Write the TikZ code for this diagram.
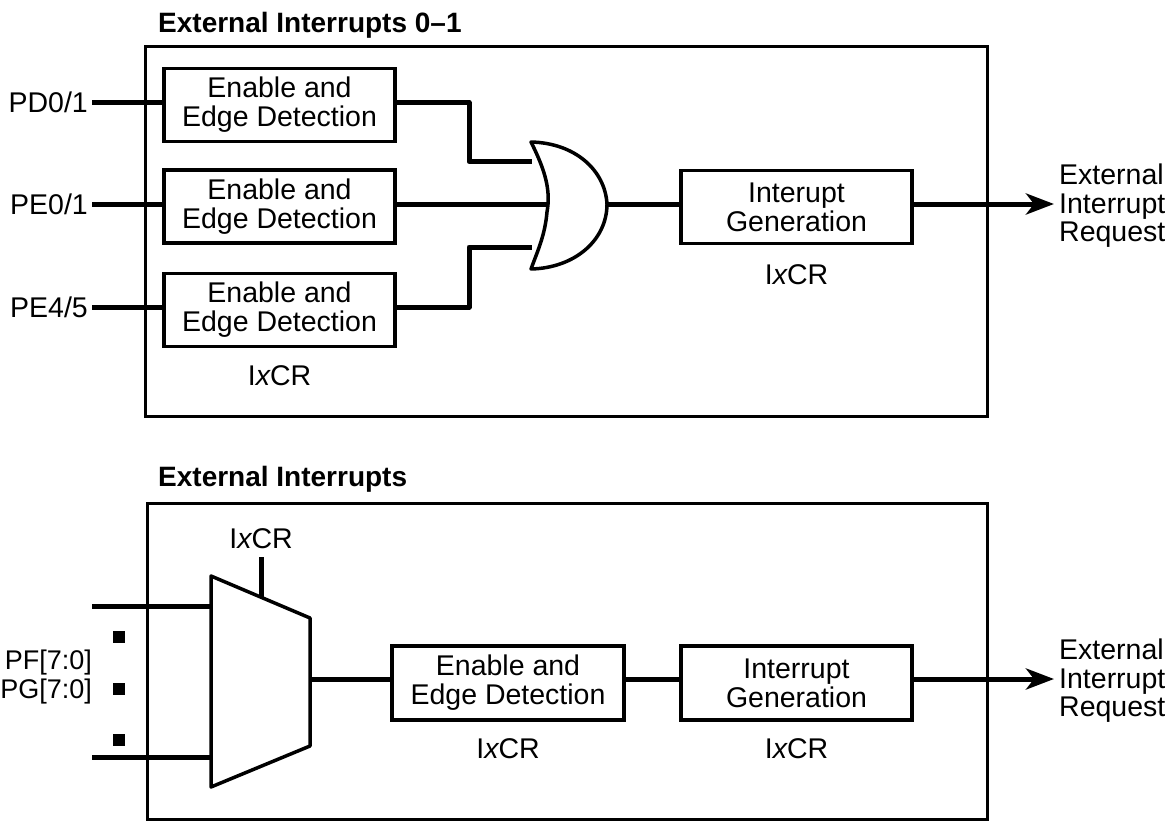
\documentclass[tikz,border=0pt]{standalone}
\usepackage{fontspec}
\setmainfont{Liberation Sans}
\usetikzlibrary{arrows.meta,positioning,shapes}
\tikzstyle{block}=[rectangle,draw=black,line width=3.3pt,align=center,minimum width=231pt,minimum height=73pt,inner sep=0pt,font=\fontsize{28.5}{29}\selectfont]
\tikzstyle{frame}=[draw=black,line width=3pt]
\tikzstyle{wire}=[draw=black,line width=5pt]
\tikzstyle{outwire}=[wire,-{Stealth[length=28pt,width=21pt,inset=8pt]},shorten >=5pt]
\tikzstyle{gate}=[draw=black,line width=3.5pt,fill=white,line join=round]
\tikzstyle{port}=[inner sep=0pt,font=\fontsize{28.5}{28.5}\selectfont]
\tikzstyle{title}=[inner sep=0pt,anchor=west,font=\bfseries\fontsize{28}{28}\selectfont]
\tikzstyle{dot}=[rectangle,fill=black,minimum size=12pt,inner sep=0pt]
\newcommand{\ixcr}{I{\itshape x}CR}
\begin{document}
\begin{tikzpicture}[x=1pt,y=-1pt]
	\useasboundingbox (0,0) rectangle (1174,821);

	% upper unit
	\node[title] (title1) at (158,25) {External Interrupts 0--1};
	\draw[frame] (145,47) rectangle (987,416);
	\node[block] (b1) at (279.5,105) {Enable and\\Edge Detection};
	\node[block,below of=b1,node distance=101.5pt] (b2) {Enable and\\Edge Detection};
	\node[block,below of=b2,node distance=103.5pt] (b3) {Enable and\\Edge Detection};
	\node[port,below of=b3,node distance=66pt] (r1) {\ixcr};
	\node[block] (g1) at (796.5,207) {Interupt\\Generation};
	\node[port,below of=g1,node distance=68pt] (r2) {\ixcr};

	\node[port,anchor=east] (pd) at (88,102.5) {PD0/1};
	\node[port,anchor=east] (pe0) at (88,204) {PE0/1};
	\node[port,anchor=east] (pe4) at (88,307) {PE4/5};
	\node[port,anchor=west,align=left] (req1) at (1059,206) {External\\Interrupt\\Request};

	\coordinate (or1) at (532,161.5);
	\coordinate (or2) at (547,204);
	\coordinate (or3) at (532,247);
	\coordinate (orout) at (607,204);
	\coordinate (k1) at (469,102.5);
	\coordinate (k3) at (469,247);

	\draw[wire] ([xshift=4pt]pd.east) -- (pd.east -| b1.west);
	\draw[wire] ([xshift=4pt]pe0.east) -- (pe0.east -| b2.west);
	\draw[wire] ([xshift=4pt]pe4.east) -- (pe4.east -| b3.west);
	\draw[wire,line join=round] (b1.east |- k1) -- (k1) |- (or1);
	\draw[wire] (b2.east |- or2) -- (or2);
	\draw[wire,line join=round] (b3.east |- pe4.east) -| (k3) -- (or3);
	\draw[gate] (531,142) .. controls (545,170) and (551,190) .. (547,212)
		.. controls (545,235) and (538,250) .. (531,269)
		.. controls (575,268) and (607,240) .. (607,204)
		.. controls (605,170) and (575,143) .. (531,142) -- cycle;
	\draw[wire] (orout) -- (g1.west |- orout);
	\draw[outwire] (g1.east |- orout) -- (req1.west |- orout);

	% lower unit
	\node[title] (title2) at (158,479) {External Interrupts};
	\draw[frame] (147,503) rectangle (987,819);
	\node[block,minimum height=74pt,minimum width=232pt] (b4) at (508,683) {Enable and\\Edge Detection};
	\node[port,below of=b4,node distance=66pt] (r3) {\ixcr};
	\node[block,minimum height=74pt,right of=b4,node distance=288.5pt] (g2) {Interrupt\\Generation};
	\node[port,below of=g2,node distance=66pt] (r4) {\ixcr};
	\node[port] (r5) at (261,539) {\ixcr};
	\node[port,anchor=east,align=right,font=\fontsize{27}{28.5}\selectfont] (pf) at (92,677) {PF[7:0]\\PG[7:0]};
	\node[port,anchor=west,align=left] (req2) at (1059,681) {External\\Interrupt\\Request};

	\node[dot] (d1) at (119,637) {};
	\node[dot,below of=d1,node distance=52pt] (d2) {};
	\node[dot,below of=d2,node distance=51pt] (d3) {};

	\coordinate (m1) at (211,606);
	\coordinate (m2) at (211,757);
	\coordinate (m3) at (261,597);
	\coordinate (m4) at (261,557);
	\coordinate (m5) at (310,679);
	\coordinate (s1) at (92,606);
	\coordinate (s2) at (92,757);

	\draw[wire] (s1) -- (m1);
	\draw[wire] (s2) -- (m2);
	\draw[wire] (m4) -- (m3);
	\draw[gate] (211,576) -- (310,618) -- (310,746) -- (211,787) -- cycle;
	\draw[wire] (m5) -- (b4.west |- m5);
	\draw[wire] (b4.east |- m5) -- (g2.west |- m5);
	\draw[outwire] (g2.east |- m5) -- (req2.west |- m5);
\end{tikzpicture}
\end{document}
